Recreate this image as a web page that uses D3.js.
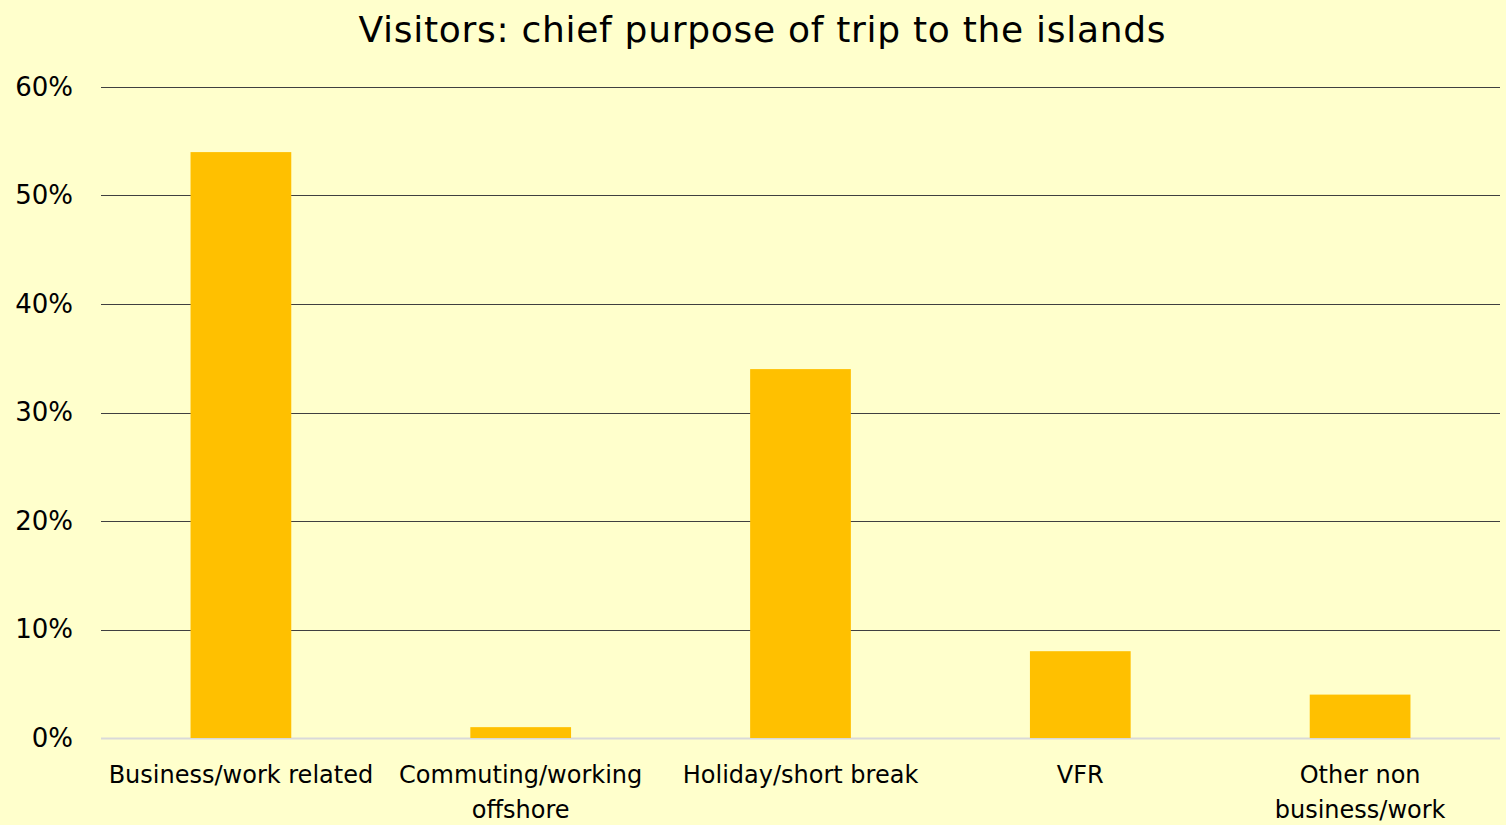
<!DOCTYPE html>
<html>
<head>
<meta charset="utf-8">
<script src="https://cdn.jsdelivr.net/npm/d3@7"></script>
<style>
  body { margin: 0; background: #FFFFCC; }
  text { font-family: "DejaVu Sans", sans-serif; fill: #000; }
</style>
</head>
<body>
<div id="chart-area"></div>
<script>
// data
var categories = ["Business/work related", "Commuting/working offshore", "Holiday/short break", "VFR", "Other non business/work"];
var labelLines = [["Business/work related"], ["Commuting/working", "offshore"], ["Holiday/short break"], ["VFR"], ["Other non", "business/work"]];
var values = [0.54, 0.01, 0.34, 0.08, 0.04];
var yTicks = [0, 0.1, 0.2, 0.3, 0.4, 0.5, 0.6];
var title = "Visitors: chief purpose of trip to the islands";

var W = 1506, H = 825;
var margin = { left: 101, right: 6, top: 87, bottom: 87 };
var w = W - margin.left - margin.right;
var h = H - margin.top - margin.bottom;

var svg = d3.select("#chart-area")
    .append("svg")
    .attr("width", W)
    .attr("height", H);

svg.append("rect").attr("width", W).attr("height", H).attr("fill", "#FFFFCC");

svg.append("text")
    .attr("x", 762)
    .attr("y", 42)
    .attr("text-anchor", "middle")
    .attr("font-size", "36px")
    .attr("textLength", 807)
    .text(title);

var g = svg.append("g")
    .attr("transform", "translate(" + margin.left + "," + margin.top + ")");

var x = d3.scaleBand()
    .domain(categories)
    .range([0, w])
    .paddingInner(0.64)
    .paddingOuter(0.32);

var y = d3.scaleLinear()
    .domain([0, 0.6])
    .range([h, 0]);

// gridlines
g.selectAll(".grid")
    .data(yTicks)
    .enter()
    .append("line")
    .attr("x1", 0)
    .attr("x2", w)
    .attr("y1", function (d) { return Math.round(y(d)) + 0.5; })
    .attr("y2", function (d) { return Math.round(y(d)) + 0.5; })
    .attr("stroke", function (d) { return d === 0 ? "#d9d9d9" : "#404040"; })
    .attr("stroke-width", function (d) { return d === 0 ? 2 : 1.2; });

// y axis labels
var yAxis = d3.axisLeft(y)
    .tickValues(yTicks)
    .tickFormat(d3.format(".0%"))
    .tickSize(0)
    .tickPadding(28);

var ya = g.append("g").call(yAxis);
ya.select(".domain").remove();
ya.selectAll("text")
    .attr("font-size", "26px")
    .attr("font-family", "DejaVu Sans, sans-serif")
    .attr("fill", "#000");

// bars
g.selectAll(".bar")
    .data(values)
    .enter()
    .append("rect")
    .attr("class", "bar")
    .attr("x", function (d, i) { return x(categories[i]); })
    .attr("y", function (d) { return y(d); })
    .attr("width", x.bandwidth())
    .attr("height", function (d) { return h - y(d); })
    .attr("fill", "#FFC000");

// category labels
var lab = g.selectAll(".cat")
    .data(labelLines)
    .enter()
    .append("text")
    .attr("class", "cat")
    .attr("text-anchor", "middle")
    .attr("font-size", "24px")
    .attr("transform", function (d, i) {
        return "translate(" + (x(categories[i]) + x.bandwidth() / 2) + "," + (h + 45) + ")";
    });

lab.selectAll("tspan")
    .data(function (d) { return d; })
    .enter()
    .append("tspan")
    .attr("x", 0)
    .attr("dy", function (d, i) { return i === 0 ? 0 : 35; })
    .text(function (d) { return d; });
</script>
</body>
</html>
